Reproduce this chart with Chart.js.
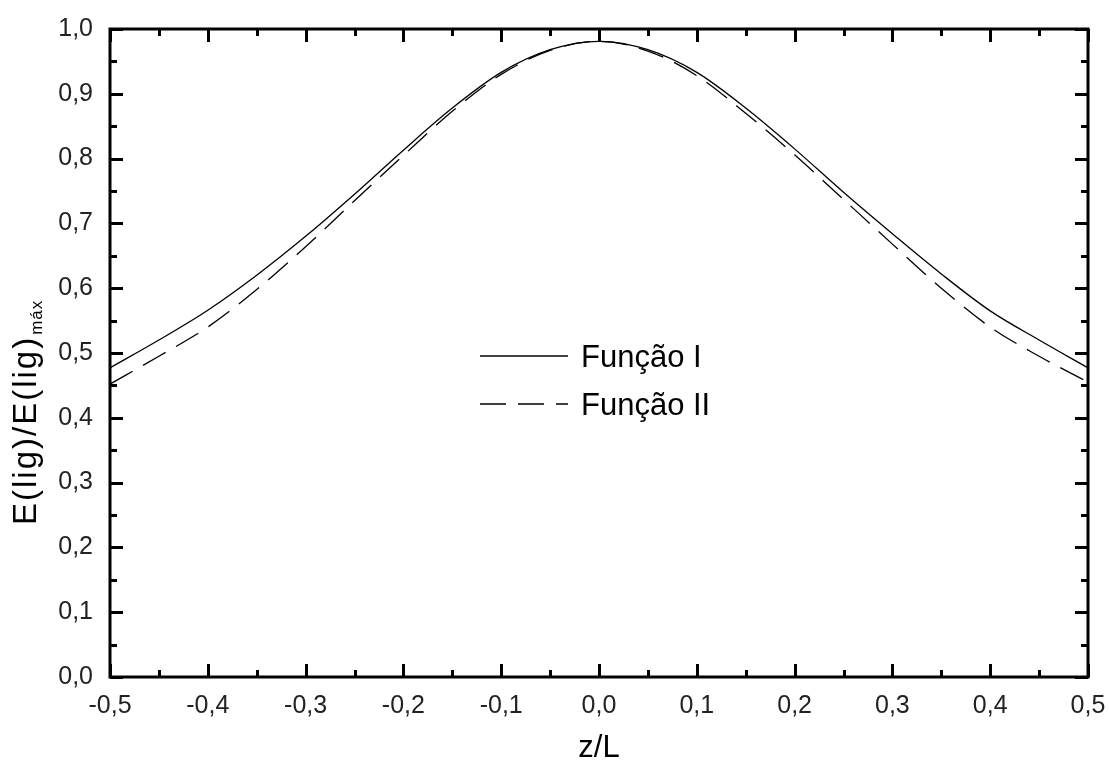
<!DOCTYPE html>
<html>
<head>
<meta charset="utf-8">
<script src="https://cdn.jsdelivr.net/npm/chart.js@4"></script>
<style>
  body { margin: 0; background: #fff; }
  canvas { display: block; }
</style>
</head>
<body>
<canvas id="myChart" width="1109" height="769"></canvas>
<script>
const zL = [-0.5, -0.45, -0.4, -0.35, -0.3, -0.25, -0.2, -0.15, -0.1, -0.05, 0, 0.05, 0.1, 0.15, 0.2, 0.25, 0.3, 0.35, 0.4, 0.45, 0.5]
const funcaoI = [0.477, 0.52, 0.566, 0.62, 0.68, 0.745, 0.813, 0.878, 0.933, 0.968, 0.981, 0.968, 0.933, 0.878, 0.815, 0.748, 0.684, 0.622, 0.565, 0.52, 0.477]
const funcaoII = [0.452, 0.495, 0.54, 0.598, 0.664, 0.735, 0.805, 0.873, 0.93, 0.967, 0.981, 0.966, 0.928, 0.87, 0.806, 0.737, 0.668, 0.6, 0.54, 0.495, 0.455]
const xTicks = [-0.5, -0.4, -0.3, -0.2, -0.1, 0, 0.1, 0.2, 0.3, 0.4, 0.5]
const yTicks = [0, 0.1, 0.2, 0.3, 0.4, 0.5, 0.6, 0.7, 0.8, 0.9, 1.0]

const fmt = (v) => Number(v).toFixed(1).replace('.', ',')
const toPoints = (ys) => zL.map((x, i) => ({ x, y: ys[i] }))

// frame, inward ticks, custom legend and y title with subscript
const decorations = {
  id: 'decorations',
  afterDraw (chart) {
    const { ctx, chartArea: a, scales } = chart
    const sx = scales.x
    const sy = scales.y
    ctx.save()
    ctx.strokeStyle = '#000'
    ctx.lineWidth = 3
    ctx.strokeRect(a.left, a.top, a.right - a.left, a.bottom - a.top)

    ctx.lineWidth = 3
    ctx.beginPath()
    for (let i = 0; i <= 20; i++) {
      const v = -0.5 + i * 0.05
      const len = i % 2 === 0 ? 13 : 7
      const px = Math.round(sx.getPixelForValue(v)) + 0.5
      ctx.moveTo(px, a.bottom); ctx.lineTo(px, a.bottom - len)
      ctx.moveTo(px, a.top); ctx.lineTo(px, a.top + len)
    }
    for (let i = 0; i <= 20; i++) {
      const v = i * 0.05
      const len = i % 2 === 0 ? 13 : 7
      const py = Math.round(sy.getPixelForValue(v)) + 0.5
      ctx.moveTo(a.left, py); ctx.lineTo(a.left + len, py)
      ctx.moveTo(a.right, py); ctx.lineTo(a.right - len, py)
    }
    ctx.stroke()

    // legend
    const items = chart.data.datasets
    items.forEach((ds, i) => {
      const y = 356 + i * 48
      ctx.beginPath()
      ctx.lineWidth = 1.3
      ctx.setLineDash(ds.borderDash || [])
      ctx.moveTo(480, y)
      ctx.lineTo(568, y)
      ctx.stroke()
      ctx.setLineDash([])
      ctx.fillStyle = '#000'
      ctx.font = '31px "Liberation Sans", Arial, sans-serif'
      ctx.textBaseline = 'alphabetic'
      ctx.textAlign = 'left'
      ctx.fillText(ds.label, 581, y + 11)
    })

    // y axis title
    ctx.translate(36, 525)
    ctx.rotate(-Math.PI / 2)
    ctx.fillStyle = '#000'
    ctx.textAlign = 'left'
    ctx.textBaseline = 'alphabetic'
    ctx.font = '33px "Liberation Sans", Arial, sans-serif'
    ctx.letterSpacing = '2px'
    const main = 'E(lig)/E(lig)'
    ctx.fillText(main, 0, 0)
    const w = ctx.measureText(main).width
    ctx.font = '17px "Liberation Sans", Arial, sans-serif'
    ctx.letterSpacing = '1px'
    ctx.fillText('máx', w + 1, 6)
    ctx.restore()
  }
}

new Chart(document.getElementById('myChart'), {
  type: 'line',
  data: {
    datasets: [{
      label: 'Função I',
      data: toPoints(funcaoI),
      borderColor: '#000',
      borderWidth: 1.3,
      pointRadius: 0,
      cubicInterpolationMode: 'monotone',
      fill: false
    }, {
      label: 'Função II',
      data: toPoints(funcaoII),
      borderColor: '#000',
      borderWidth: 1.3,
      borderDash: [26, 12],
      pointRadius: 0,
      cubicInterpolationMode: 'monotone',
      fill: false
    }]
  },
  options: {
    responsive: false,
    animation: false,
    layout: { padding: { top: 29, right: 21, left: 0, bottom: 0 } },
    plugins: {
      legend: { display: false },
      tooltip: { enabled: false }
    },
    scales: {
      x: {
        type: 'linear',
        min: -0.5,
        max: 0.5,
        afterBuildTicks: (scale) => { scale.ticks = xTicks.map(v => ({ value: v })) },
        afterFit: (scale) => {
          scale.height = 92
          scale.paddingLeft = 0
          scale.paddingRight = 0
        },
        grid: { display: false, drawTicks: false },
        border: { display: false },
        ticks: {
          padding: 14,
          color: '#222',
          font: { family: '"Liberation Sans", Arial, sans-serif', size: 25 },
          callback: (v) => fmt(v)
        },
        title: {
          display: true,
          text: 'z/L',
          color: '#000',
          padding: { top: 4, bottom: 2 },
          font: { family: '"Liberation Sans", Arial, sans-serif', size: 31 }
        }
      },
      y: {
        min: 0,
        max: 1,
        afterBuildTicks: (scale) => { scale.ticks = yTicks.map(v => ({ value: v })) },
        afterFit: (scale) => {
          scale.width = 110
          scale.paddingTop = 0
          scale.paddingBottom = 0
        },
        grid: { display: false, drawTicks: false },
        border: { display: false },
        ticks: {
          padding: 17,
          color: '#222',
          font: { family: '"Liberation Sans", Arial, sans-serif', size: 25 },
          callback: (v) => fmt(v)
        }
      }
    }
  },
  plugins: [decorations]
})
</script>
</body>
</html>
